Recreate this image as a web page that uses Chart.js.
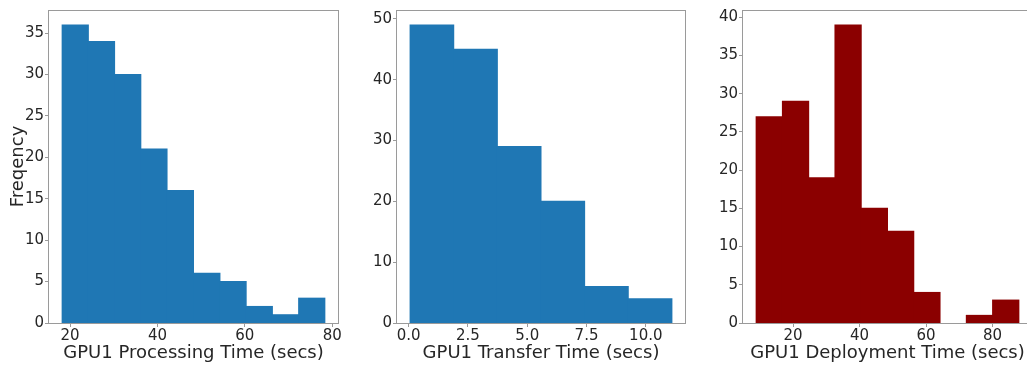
<!DOCTYPE html>
<html>
<head>
<meta charset="utf-8">
<script src="https://cdn.jsdelivr.net/npm/chart.js@4.4.1/dist/chart.umd.min.js"></script>
<style>
  body { margin: 0; background: #fff; overflow: hidden; width: 1027px; height: 365px; position: relative; }
  canvas { position: absolute; top: 0; }
</style>
</head>
<body>
<canvas id="procChart" width="345" height="365" style="left:0px"></canvas>
<canvas id="transferChart" width="345" height="365" style="left:345px"></canvas>
<canvas id="deployChart" width="345" height="365" style="left:690px"></canvas>
<script>
// bin edges and counts
const procEdges = [18.2, 24.2, 30.2, 36.2, 42.2, 48.3, 54.3, 60.3, 66.3, 72.3, 78.3];
const procCounts = [36, 34, 30, 21, 16, 6, 5, 2, 1, 3];
const procXTicks = [20, 40, 60, 80];
const procYTicks = [0, 5, 10, 15, 20, 25, 30, 35];

const transferEdges = [0.06, 1.90, 3.74, 5.58, 7.42, 9.26, 11.10];
const transferCounts = [49, 45, 29, 20, 6, 4];
const transferXTicks = [0, 2.5, 5, 7.5, 10];
const transferYTicks = [0, 10, 20, 30, 40, 50];

const deployEdges = [8.9, 16.8, 24.7, 32.6, 40.5, 48.4, 56.3, 64.2, 72.1, 80.0, 87.9];
const deployCounts = [27, 29, 19, 39, 15, 12, 4, 0, 1, 3];
const deployXTicks = [20, 40, 60, 80];
const deployYTicks = [0, 5, 10, 15, 20, 25, 30, 35, 40];

Chart.defaults.font.family = 'DejaVu Sans';
Chart.defaults.color = '#262626';

const spineColor = '#9a9a9a';

// matplotlib style box round the plot area
const boxPlugin = {
  id: 'box',
  afterDraw(chart) {
    const a = chart.chartArea, ctx = chart.ctx;
    ctx.save();
    ctx.strokeStyle = spineColor;
    ctx.lineWidth = 1;
    ctx.strokeRect(Math.round(a.left) - 0.5, Math.round(a.top) + 0.5,
                   Math.round(a.right - a.left) + 1, Math.round(a.bottom - a.top));
    ctx.restore();
  }
};

function histPoints(edges, counts) {
  return counts.map((c, i) => ({ x: (edges[i] + edges[i + 1]) / 2, y: c }));
}

function makeHist(id, edges, counts, color, xTicks, yTicks, yMax, xLabel, yLabel, yWidth, padRight) {
  const span = edges[edges.length - 1] - edges[0];
  const xMin = edges[0] - span * 0.05;
  const xMax = edges[edges.length - 1] + span * 0.05;
  return new Chart(document.getElementById(id), {
    type: 'bar',
    data: {
      datasets: [{
        data: histPoints(edges, counts),
        backgroundColor: color,
        borderWidth: 0,
        // close the hairline seams between adjacent bins, skip empty bins
        inflateAmount: c => (c.raw && c.raw.y > 0) ? 0.5 : 0,
        barPercentage: 1,
        categoryPercentage: 1
      }]
    },
    options: {
      responsive: false,
      animation: false,
      layout: { padding: { top: 3, right: padRight, left: 0, bottom: 0 } },
      plugins: { legend: { display: false }, tooltip: { enabled: false } },
      scales: {
        x: {
          type: 'linear',
          offset: false,
          min: xMin,
          max: xMax,
          grid: { display: true, offset: false, drawOnChartArea: false, drawTicks: true, tickLength: 4, color: spineColor },
          border: { display: false },
          ticks: {
            font: { size: 15 },
            padding: 0,
            maxRotation: 0,
            callback: v => xTicks.some(t => t % 1 !== 0) ? v.toFixed(1) : String(v)
          },
          afterBuildTicks: s => { s.ticks = xTicks.map(v => ({ value: v })); },
          afterFit: s => { s.height = 42; },
          title: { display: true, text: xLabel, font: { size: 18 }, padding: { top: 2, bottom: 1 } }
        },
        y: {
          min: 0,
          max: yMax,
          grid: { display: true, offset: false, drawOnChartArea: false, drawTicks: true, tickLength: 4, color: spineColor },
          border: { display: false },
          ticks: { font: { size: 15 }, padding: 1 },
          afterBuildTicks: s => { s.ticks = yTicks.map(v => ({ value: v })); },
          afterFit: s => { s.width = yWidth; },
          title: { display: !!yLabel, text: yLabel, font: { size: 18 }, padding: { top: 8, bottom: 0 } }
        }
      }
    },
    plugins: [boxPlugin]
  });
}

makeHist('procChart', procEdges, procCounts, '#1f77b4', procXTicks, procYTicks, 36 * 1.05,
  'GPU1 Processing Time (secs)', 'Freqency', 49, 7);
makeHist('transferChart', transferEdges, transferCounts, '#1f77b4', transferXTicks, transferYTicks, 49 * 1.05,
  'GPU1 Transfer Time (secs)', '', 52, 5);
makeHist('deployChart', deployEdges, deployCounts, '#8b0000', deployXTicks, deployYTicks, 39 * 1.05,
  'GPU1 Deployment Time (secs)', '', 53, 3);
</script>
</body>
</html>
